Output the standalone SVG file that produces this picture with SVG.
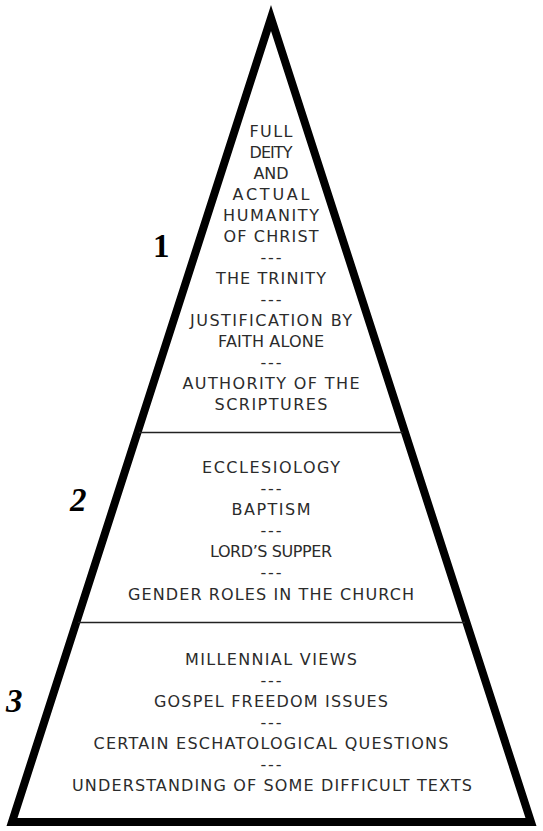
<svg xmlns="http://www.w3.org/2000/svg" width="543" height="831" viewBox="0 0 543 831">
<style>
.t{font-family:"DejaVu Sans","Liberation Sans",sans-serif;font-size:16px;fill:#2b2b2b;text-anchor:middle}
.n{font-family:"Liberation Serif","Times New Roman",serif;font-weight:bold;font-size:33px;fill:#000}
.div{stroke:#222;stroke-width:1.4}
</style>
<rect width="543" height="831" fill="#fff"/>
<g id="pyramid">
<polygon points="271,18 531,822 12,822" fill="none" stroke="#000" stroke-width="8" stroke-linejoin="miter"/>
</g>
<g id="connectors">
<line class="div" x1="139" y1="432.5" x2="403" y2="432.5"/>
<line class="div" x1="78" y1="622.5" x2="465" y2="622.5"/>
</g>
<g id="tier1">
<text class="n" x="153" y="257">1</text>
<text class="t" x="271" y="137" textLength="43" lengthAdjust="spacing">FULL</text>
<text class="t" x="271" y="158" textLength="43" lengthAdjust="spacing">DEITY</text>
<text class="t" x="271" y="179" textLength="35" lengthAdjust="spacing">AND</text>
<text class="t" x="271" y="200" textLength="77" lengthAdjust="spacing">ACTUAL</text>
<text class="t" x="271" y="221" textLength="96" lengthAdjust="spacing">HUMANITY</text>
<text class="t" x="271" y="242" textLength="95" lengthAdjust="spacing">OF CHRIST</text>
<text class="t" x="271" y="263" textLength="21" lengthAdjust="spacing">---</text>
<text class="t" x="271" y="284" textLength="110" lengthAdjust="spacing">THE TRINITY</text>
<text class="t" x="271" y="305" textLength="21" lengthAdjust="spacing">---</text>
<text class="t" x="271" y="326" textLength="162" lengthAdjust="spacing">JUSTIFICATION BY</text>
<text class="t" x="271" y="347" textLength="106" lengthAdjust="spacing">FAITH ALONE</text>
<text class="t" x="271" y="368" textLength="21" lengthAdjust="spacing">---</text>
<text class="t" x="271" y="389" textLength="177" lengthAdjust="spacing">AUTHORITY OF THE</text>
<text class="t" x="271" y="410" textLength="113" lengthAdjust="spacing">SCRIPTURES</text>
</g>
<g id="tier2">
<text class="n" x="70" y="511" font-style="italic">2</text>
<text class="t" x="271" y="473" textLength="138" lengthAdjust="spacing">ECCLESIOLOGY</text>
<text class="t" x="271" y="494" textLength="21" lengthAdjust="spacing">---</text>
<text class="t" x="271" y="515" textLength="79" lengthAdjust="spacing">BAPTISM</text>
<text class="t" x="271" y="536" textLength="21" lengthAdjust="spacing">---</text>
<text class="t" x="271" y="557" textLength="122" lengthAdjust="spacing">LORD’S SUPPER</text>
<text class="t" x="271" y="578" textLength="21" lengthAdjust="spacing">---</text>
<text class="t" x="271" y="600" textLength="286" lengthAdjust="spacing">GENDER ROLES IN THE CHURCH</text>
</g>
<g id="tier3">
<text class="n" x="6" y="712" font-style="italic">3</text>
<text class="t" x="271" y="665" textLength="172" lengthAdjust="spacing">MILLENNIAL VIEWS</text>
<text class="t" x="271" y="686" textLength="21" lengthAdjust="spacing">---</text>
<text class="t" x="271" y="707" textLength="234" lengthAdjust="spacing">GOSPEL FREEDOM ISSUES</text>
<text class="t" x="271" y="728" textLength="21" lengthAdjust="spacing">---</text>
<text class="t" x="271" y="749" textLength="355" lengthAdjust="spacing">CERTAIN ESCHATOLOGICAL QUESTIONS</text>
<text class="t" x="271" y="770" textLength="21" lengthAdjust="spacing">---</text>
<text class="t" x="272" y="791" textLength="400" lengthAdjust="spacing">UNDERSTANDING OF SOME DIFFICULT TEXTS</text>
</g>
</svg>
